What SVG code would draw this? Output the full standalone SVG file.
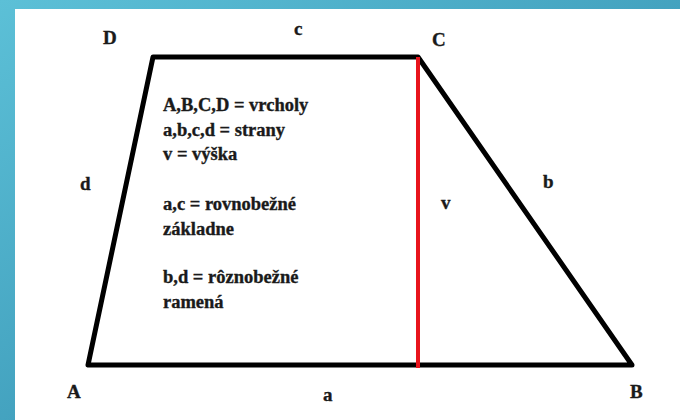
<svg xmlns="http://www.w3.org/2000/svg" width="680" height="420" viewBox="0 0 680 420">
<defs>
<linearGradient id="bg" x1="0" y1="0" x2="1" y2="1">
<stop offset="0" stop-color="#5cc0d7"/>
<stop offset="0.6" stop-color="#3f9dbb"/>
<stop offset="1" stop-color="#2d7fa3"/>
</linearGradient>
<style>
.lbl{font-size:19px}
.note{font-size:18.5px}
.edge{stroke:#000;stroke-width:5;fill:none;stroke-linejoin:round;stroke-linecap:round}
</style>
</defs>
<rect width="680" height="420" fill="url(#bg)"/>
<rect x="15" y="9" width="665" height="411" fill="#fff"/>
<g id="connectors">
<polygon class="edge" points="88,365 632,365 418,57 153,57"/>
<line x1="418" y1="57" x2="418" y2="368" stroke="#e8141c" stroke-width="4"/>
</g>
<g font-family="Liberation Serif, Tinos, DejaVu Serif, serif" font-weight="bold" fill="#1a1a1a" stroke="#1a1a1a" stroke-width="0.35">
<g id="A"><text class="lbl" x="67" y="398">A</text></g>
<g id="B"><text class="lbl" x="630" y="398">B</text></g>
<g id="C"><text class="lbl" x="432" y="46">C</text></g>
<g id="D"><text class="lbl" x="103" y="44">D</text></g>
<g id="side-labels">
<text class="lbl" x="294" y="35">c</text>
<text class="lbl" x="323" y="401">a</text>
<text class="lbl" x="80" y="190">d</text>
<text class="lbl" x="543" y="188">b</text>
<text class="lbl" x="441" y="209">v</text>
</g>
<g id="legend">
<text class="note" x="163" y="111">A,B,C,D = vrcholy</text>
<text class="note" x="163" y="136">a,b,c,d = strany</text>
<text class="note" x="163" y="160">v = výška</text>
<text class="note" x="163" y="210">a,c = rovnobežné</text>
<text class="note" x="163" y="235">základne</text>
<text class="note" x="163" y="283">b,d = rôznobežné</text>
<text class="note" x="163" y="308">ramená</text>
</g>
</g>
</svg>
